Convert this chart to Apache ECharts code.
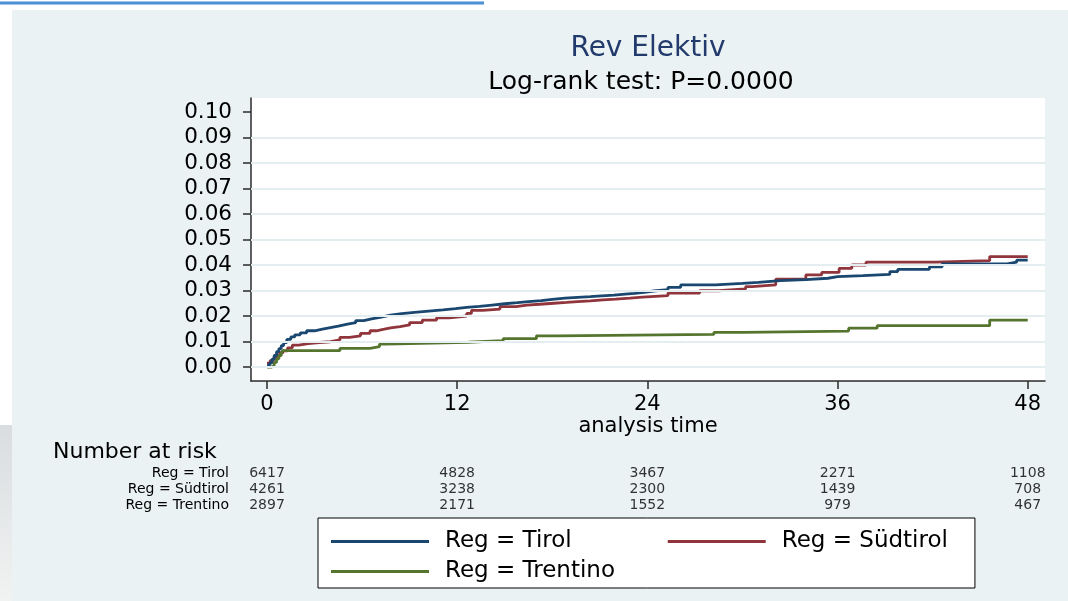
<!DOCTYPE html>
<html><head><meta charset="utf-8">
<script src="https://cdn.jsdelivr.net/npm/echarts@6/dist/echarts.min.js"></script>
<style>html,body{margin:0;padding:0;background:#fff}#c{width:1068px;height:601px}</style>
</head><body><div id="c"></div>
<script>
// ---- data ----
const groups = ['Reg = Tirol', 'Reg = Südtirol', 'Reg = Trentino'];
const xTicks = [0, 12, 24, 36, 48];
const yTicks = [0, 0.01, 0.02, 0.03, 0.04, 0.05, 0.06, 0.07, 0.08, 0.09, 0.10];

const tirolT = [0, 0.15, 0.3, 0.45, 0.6, 0.75, 0.9, 1.05, 1.25, 1.5, 1.75, 2.1, 2.5, 3.0, 3.5, 4.0, 4.5, 5.0, 5.6, 6.1, 6.6, 7.2, 7.8, 8.5, 9.3, 10.2, 11.1, 11.9, 12.6, 13.4, 14.2, 15.0, 15.8, 16.5, 17.3, 18.0, 18.8, 19.6, 20.4, 21.1, 21.9, 22.6, 23.2, 23.8, 24.4, 25.3, 26.1, 28.3, 30.0, 31.0, 32.4, 34.0, 35.4, 36.0, 37.6, 39.3, 39.8, 41.8, 42.6, 46.7, 47.3, 48.0];
const tirolF = [0.0005, 0.0015, 0.003, 0.0045, 0.006, 0.0072, 0.0084, 0.0096, 0.0108, 0.0118, 0.0126, 0.0134, 0.0142, 0.0148, 0.0154, 0.016, 0.0167, 0.0174, 0.0182, 0.0189, 0.0196, 0.0203, 0.0209, 0.0214, 0.0219, 0.0224, 0.0229, 0.0234, 0.0238, 0.0243, 0.0248, 0.0252, 0.0256, 0.026, 0.0265, 0.027, 0.0273, 0.0276, 0.0279, 0.0282, 0.0286, 0.0289, 0.0293, 0.0298, 0.0303, 0.0312, 0.0322, 0.0328, 0.0332, 0.0339, 0.0343, 0.0348, 0.0354, 0.0358, 0.0363, 0.0374, 0.0383, 0.0393, 0.0404, 0.0411, 0.0419, 0.0419];

const sudT = [0, 0.2, 0.4, 0.6, 0.8, 1.0, 1.3, 1.6, 2.0, 2.6, 3.3, 4.0, 4.6, 5.2, 5.9, 6.5, 6.9, 7.4, 7.8, 8.4, 9.0, 9.8, 10.7, 11.5, 12.6, 12.9, 13.6, 14.7, 15.7, 16.4, 17.2, 18.1, 18.9, 19.6, 20.4, 21.2, 22.0, 22.9, 23.7, 25.3, 27.3, 28.5, 30.2, 30.6, 32.1, 34.0, 35.0, 36.1, 36.9, 37.8, 42.2, 45.6, 48.0];
const sudF = [0.0015, 0.0025, 0.0035, 0.0045, 0.0055, 0.0063, 0.0075, 0.0086, 0.0092, 0.0096, 0.0099, 0.0106, 0.0116, 0.0122, 0.0132, 0.0142, 0.0148, 0.0153, 0.0158, 0.0165, 0.0174, 0.0184, 0.0193, 0.02, 0.021, 0.0222, 0.0227, 0.0237, 0.0243, 0.0246, 0.025, 0.0253, 0.0256, 0.0259, 0.0263, 0.0266, 0.027, 0.0274, 0.028, 0.029, 0.0299, 0.0306, 0.0315, 0.0322, 0.0344, 0.0361, 0.0371, 0.0387, 0.04, 0.0411, 0.0417, 0.0433, 0.0433];

const trenT = [0, 0.3, 0.45, 0.6, 0.75, 0.9, 1.0, 4.6, 6.5, 7.1, 7.5, 12.7, 14.9, 17.0, 18.3, 28.2, 30.0, 36.7, 38.5, 45.6, 48.0];
const trenF = [0, 0.0005, 0.0018, 0.0032, 0.0045, 0.0056, 0.0064, 0.0073, 0.008, 0.009, 0.0097, 0.0103, 0.0111, 0.0122, 0.0128, 0.0136, 0.0141, 0.0152, 0.0162, 0.0184, 0.0184];

const riskTimes = [0, 12, 24, 36, 48];
const riskTirol = [6417, 4828, 3467, 2271, 1108];
const riskSud = [4261, 3238, 2300, 1439, 708];
const riskTren = [2897, 2171, 1552, 979, 467];

// ---- chart ----
const FONT = 'DejaVu Sans';
const colors = ['#1a476f', '#90353b', '#55752f'];
const pair = (ts, fs) => ts.map((t, i) => [t, fs[i]]);
const riskRows = [riskTirol, riskSud, riskTren];
const riskData = [];
riskRows.forEach((row, g) => row.forEach((n, i) => riskData.push([riskTimes[i], groups[g], n])));

const X_MIN = -1.01, X_MAX = 49.09, Y_MIN = -0.0055, Y_MAX = 0.1055;
const axisColor = '#2b2b2b';

const legendText = { fontFamily: FONT, fontSize: 23, color: '#000', padding: [0, 0, 0, 11] };

const chart = echarts.init(document.getElementById('c'), null, { renderer: 'canvas' });
chart.setOption({
  animation: false,
  backgroundColor: '#eaf2f3',
  textStyle: { fontFamily: FONT },
  title: [
    { text: 'Rev Elektiv', left: 648, textAlign: 'center', top: 35, padding: 0,
      textStyle: { fontFamily: FONT, fontSize: 28, fontWeight: 'normal', color: '#223a6c' } },
    { text: 'Log-rank test: P=0.0000', left: 641, textAlign: 'center', top: 70, padding: 0,
      textStyle: { fontFamily: FONT, fontSize: 25, fontWeight: 'normal', color: '#000' } },
    { text: 'Number at risk', left: 53, top: 441, padding: 0,
      textStyle: { fontFamily: FONT, fontSize: 22, fontWeight: 'normal', color: '#000' } }
  ],
  legend: [
    { data: [groups[0], groups[1]], left: 318, top: 518, orient: 'horizontal', icon: 'rect',
      itemWidth: 98, itemHeight: 3, itemGap: 96, padding: [12, 27, 35, 13],
      backgroundColor: '#fff', borderColor: '#000', borderWidth: 1, selectedMode: false,
      textStyle: legendText },
    { data: [groups[2]], left: 318, top: 560, orient: 'horizontal', icon: 'rect',
      itemWidth: 98, itemHeight: 3, padding: [0, 0, 0, 13], selectedMode: false,
      textStyle: legendText }
  ],
  grid: [
    { left: 251, right: 23, top: 98, bottom: 220, show: true, backgroundColor: '#fff', borderWidth: 0 },
    { left: 251, right: 23, top: 465, height: 48 }
  ],
  xAxis: [
    { type: 'value', gridIndex: 0, min: X_MIN, max: X_MAX,
      name: 'analysis time', nameLocation: 'middle', nameGap: 32,
      nameTextStyle: { fontFamily: FONT, fontSize: 21, color: '#000' },
      axisLine: { show: true, onZero: false, lineStyle: { color: axisColor, width: 1.5 } },
      axisTick: { show: true, length: 8, customValues: xTicks, lineStyle: { color: axisColor, width: 1.5 } },
      axisLabel: { customValues: xTicks, margin: 13, fontFamily: FONT, fontSize: 21, color: '#000' },
      splitLine: { show: false } },
    { type: 'value', gridIndex: 1, min: X_MIN, max: X_MAX, show: false }
  ],
  yAxis: [
    { type: 'value', gridIndex: 0, min: Y_MIN, max: Y_MAX,
      axisLine: { show: true, onZero: false, lineStyle: { color: axisColor, width: 1.5 } },
      axisTick: { show: true, length: 8, customValues: yTicks, lineStyle: { color: axisColor, width: 1.5 } },
      axisLabel: { customValues: yTicks, margin: 19, fontFamily: FONT, fontSize: 21.5, color: '#000',
                   formatter: v => v.toFixed(2) },
      splitLine: { show: false } },
    { type: 'category', gridIndex: 1, data: groups, inverse: true,
      axisLine: { show: false }, axisTick: { show: false },
      axisLabel: { interval: 0, margin: 22, fontFamily: FONT, fontSize: 14, color: '#000' } }
  ],
  series: [
    { name: 'grid', type: 'line', data: [], z: 1, silent: true,
      markLine: { silent: true, symbol: 'none', label: { show: false },
        lineStyle: { color: '#e4eef0', width: 2, type: 'solid' },
        data: yTicks.filter(v => v < 0.1).map(v => ({ yAxis: v })) } },
    { name: groups[0], type: 'line', step: 'end', showSymbol: false, symbol: 'none', z: 4,
      data: pair(tirolT, tirolF), lineStyle: { color: colors[0], width: 2.8 }, itemStyle: { color: colors[0] } },
    { name: groups[1], type: 'line', step: 'end', showSymbol: false, symbol: 'none', z: 3,
      data: pair(sudT, sudF), lineStyle: { color: colors[1], width: 2.8 }, itemStyle: { color: colors[1] } },
    { name: groups[2], type: 'line', step: 'end', showSymbol: false, symbol: 'none', z: 3,
      data: pair(trenT, trenF), lineStyle: { color: colors[2], width: 2.8 }, itemStyle: { color: colors[2] } },
    { name: 'Number at risk', type: 'scatter', xAxisIndex: 1, yAxisIndex: 1, silent: true,
      symbolSize: 1, itemStyle: { color: 'rgba(0,0,0,0)' }, data: riskData,
      label: { show: true, position: 'inside', formatter: p => String(p.value[2]),
               fontFamily: FONT, fontSize: 14, color: '#000' } }
  ],
  graphic: [
    { type: 'rect', silent: true, z: 100, shape: { x: 0, y: 0, width: 1068, height: 10 }, style: { fill: '#fff' } },
    { type: 'rect', silent: true, z: 100, shape: { x: 0, y: 0, width: 12, height: 601 }, style: { fill: '#fff' } },
    { type: 'rect', silent: true, z: 100, shape: { x: 0, y: 425, width: 12, height: 176 },
      style: { fill: new echarts.graphic.LinearGradient(0, 0, 0, 1, [{ offset: 0, color: '#d9dddf' }, { offset: 1, color: '#f1f2f2' }]) } },
    { type: 'rect', silent: true, z: 101, shape: { x: 0, y: 1, width: 484, height: 4 }, style: { fill: '#9cc3ea' } },
    { type: 'rect', silent: true, z: 102, shape: { x: 0, y: 2, width: 484, height: 2 }, style: { fill: '#4f8fd6' } }
  ]
});
</script></body></html>
